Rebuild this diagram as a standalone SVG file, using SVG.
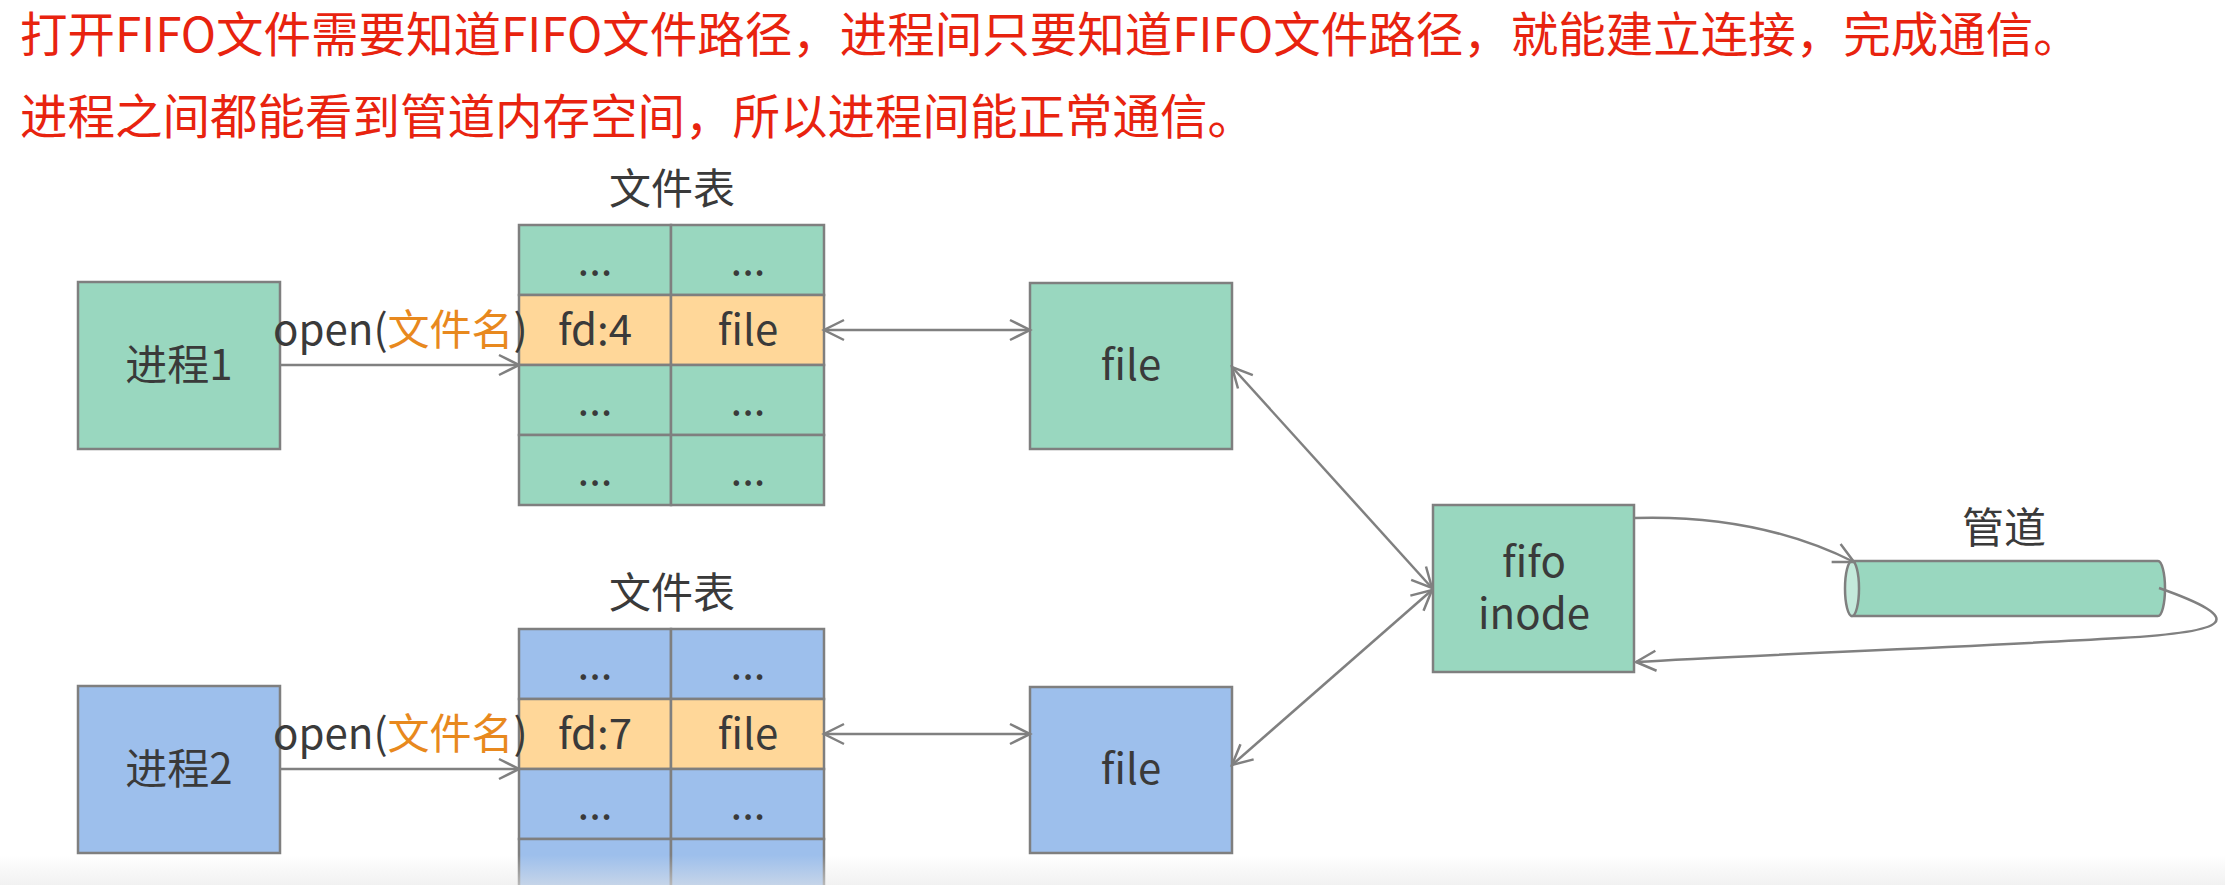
<svg xmlns="http://www.w3.org/2000/svg" width="2225" height="885" viewBox="0 0 2225 885">
<style>
text{font-family:"Noto Sans CJK SC","Noto Sans",sans-serif;fill:#3a3a3a;font-size:42px}
.t{text-anchor:middle}
.red{fill:#e8230f;font-size:47.5px}
.or{fill:#e8891e}
.g{fill:#99d7bf;stroke:#7f7f7f;stroke-width:2.5}
.b{fill:#9dbfec;stroke:#7f7f7f;stroke-width:2.5}
.o{fill:#ffd799;stroke:#7f7f7f;stroke-width:2.5}
.c{fill:none;stroke:#808080;stroke-width:2.5}
</style>
<defs>
<marker id="ah" markerUnits="userSpaceOnUse" markerWidth="26" markerHeight="26" viewBox="0 0 26 26" refX="22" refY="13" orient="auto-start-reverse">
<path d="M2,3 L22,13 L2,23" fill="none" stroke="#808080" stroke-width="2.5"/>
</marker>
<linearGradient id="fade" x1="0" y1="0" x2="0" y2="1">
<stop offset="0" stop-color="#e6e6e6" stop-opacity="0"/>
<stop offset="1" stop-color="#e6e6e6" stop-opacity="0.55"/>
</linearGradient>
</defs>
<rect width="2225" height="885" fill="#fff"/>
<g id="title">
<text class="red" x="20" y="52">打开FIFO文件需要知道FIFO文件路径，进程间只要知道FIFO文件路径，就能建立连接，完成通信。</text>
<text class="red" x="20" y="134">进程之间都能看到管道内存空间，所以进程间能正常通信。</text>
</g>
<g id="process1">
<rect class="g" x="78" y="282" width="202" height="167"/>
<text class="t" x="179" y="380">进程1</text>
</g>
<g id="table1">
<text class="t" x="672" y="204">文件表</text>
<rect class="g" x="519" y="225" width="152" height="70"/><rect class="g" x="671" y="225" width="153" height="70"/>
<rect class="o" x="519" y="295" width="152" height="70"/><rect class="o" x="671" y="295" width="153" height="70"/>
<rect class="g" x="519" y="365" width="152" height="70"/><rect class="g" x="671" y="365" width="153" height="70"/>
<rect class="g" x="519" y="435" width="152" height="70"/><rect class="g" x="671" y="435" width="153" height="70"/>
<text class="t" x="595" y="275">...</text><text class="t" x="748" y="275">...</text>
<text class="t" x="595" y="345">fd:4</text><text class="t" x="748" y="345">file</text>
<text class="t" x="595" y="415">...</text><text class="t" x="748" y="415">...</text>
<text class="t" x="595" y="485">...</text><text class="t" x="748" y="485">...</text>
</g>
<g id="file1">
<rect class="g" x="1030" y="283" width="202" height="166"/>
<text class="t" x="1131" y="380">file</text>
</g>
<g id="process2">
<rect class="b" x="78" y="686" width="202" height="167"/>
<text class="t" x="179" y="784">进程2</text>
</g>
<g id="table2">
<text class="t" x="672" y="608">文件表</text>
<rect class="b" x="519" y="629" width="152" height="70"/><rect class="b" x="671" y="629" width="153" height="70"/>
<rect class="o" x="519" y="699" width="152" height="70"/><rect class="o" x="671" y="699" width="153" height="70"/>
<rect class="b" x="519" y="769" width="152" height="70"/><rect class="b" x="671" y="769" width="153" height="70"/>
<rect class="b" x="519" y="839" width="152" height="70"/><rect class="b" x="671" y="839" width="153" height="70"/>
<text class="t" x="595" y="679">...</text><text class="t" x="748" y="679">...</text>
<text class="t" x="595" y="749">fd:7</text><text class="t" x="748" y="749">file</text>
<text class="t" x="595" y="819">...</text><text class="t" x="748" y="819">...</text>
</g>
<g id="file2">
<rect class="b" x="1030" y="687" width="202" height="166"/>
<text class="t" x="1131" y="784">file</text>
</g>
<g id="fifo">
<rect class="g" x="1433" y="505" width="201" height="167"/>
<text class="t" x="1534" y="577">fifo</text>
<text class="t" x="1534" y="629">inode</text>
</g>
<g id="pipe">
<text class="t" x="2004" y="543">管道</text>
<path d="M1852,561 L2158,561 A7,27.5 0 0 1 2158,616 L1852,616 Z" fill="#99d7bf" stroke="#7f7f7f" stroke-width="2.5"/>
<ellipse cx="1852" cy="588.5" rx="7" ry="27.5" fill="#c4e9db" stroke="#7f7f7f" stroke-width="2.5"/>
</g>
<g id="connectors">
<text x="273" y="345">open(<tspan class="or">文件名</tspan>)</text>
<text x="273" y="749">open(<tspan class="or">文件名</tspan>)</text>
<path class="c" d="M280,365 L519,365" marker-end="url(#ah)"/>
<path class="c" d="M280,769 L519,769" marker-end="url(#ah)"/>
<path class="c" d="M824,330 L1030,330" marker-start="url(#ah)" marker-end="url(#ah)"/>
<path class="c" d="M824,734 L1030,734" marker-start="url(#ah)" marker-end="url(#ah)"/>
<path class="c" d="M1232,367 L1432,588" marker-start="url(#ah)" marker-end="url(#ah)"/>
<path class="c" d="M1232,765 L1432,590" marker-start="url(#ah)" marker-end="url(#ah)"/>
<path class="c" d="M1634,518 C1730,515 1800,535 1854,562" marker-end="url(#ah)"/>
<path class="c" d="M2159,588 C2250,620 2230,632 2120,638 C1950,648 1750,655 1636,662" marker-end="url(#ah)"/>
</g>
<rect x="0" y="855" width="2225" height="30" fill="url(#fade)"/>
</svg>
